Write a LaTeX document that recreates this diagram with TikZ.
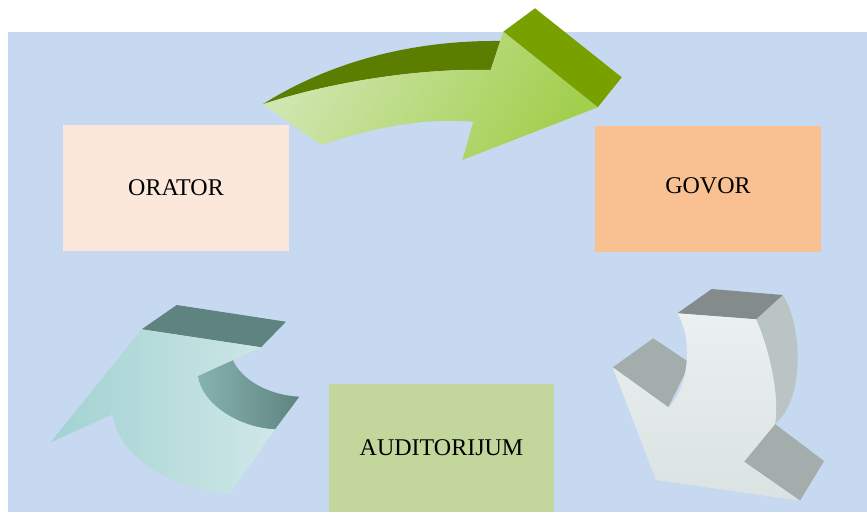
\documentclass[tikz,border=0pt]{standalone}
\usepackage{fontspec}
\setmainfont{Liberation Serif}
\definecolor{bgblue}{HTML}{C6D9F0}
\definecolor{oratorfill}{HTML}{FBE8DA}
\definecolor{govorfill}{HTML}{F9C191}
\definecolor{auditfill}{HTML}{C3D69B}
\definecolor{gLight}{HTML}{D0E6B0}
\definecolor{gMid}{HTML}{A3CF4E}
\definecolor{gDark}{HTML}{5B7E00}
\definecolor{gSide}{HTML}{78A100}
\definecolor{tLight}{HTML}{A2D2D2}
\definecolor{tLight2}{HTML}{CFE7E7}
\definecolor{tDark}{HTML}{5F8480}
\definecolor{tInner}{HTML}{86B3B0}
\definecolor{sLight}{HTML}{EBF0F0}
\definecolor{sLight2}{HTML}{DAE2E2}
\definecolor{sTop}{HTML}{838C8B}
\definecolor{sBarb}{HTML}{A3ADAC}
\definecolor{sSide}{HTML}{BAC4C4}
\tikzset{
  box/.style={draw=none, inner sep=0pt, minimum width=226pt, minimum height=126pt,
    font=\fontsize{24}{28}\selectfont, text=black},
}
\begin{document}
\begin{tikzpicture}[x=1pt,y=-1pt]
\useasboundingbox (0,0) rectangle (867,512);
\fill[bgblue] (8,32) rectangle (867,512);

% boxes
\node[box, fill=oratorfill] (orator) at (176,188) {ORATOR};
\node[box, fill=govorfill] (govor) at (708,188.5) {\raisebox{6pt}{GOVOR}};
\node[box, fill=auditfill, minimum width=225pt, minimum height=128pt] (audit) at (441.5,448) {AUDITORIJUM};

% green top arrow
\fill[gDark] (262.7,104.3) .. controls (320,68) and (400,40) .. (500.3,41)
  -- (490.7,70) .. controls (420,68) and (330,82) .. (262.7,104.3) -- cycle;
\fill[gSide] (503.3,31.7) -- (535,8.3) -- (621.7,77.3) -- (597.7,107.3) -- cycle;
\shade[left color=gLight, right color=gMid, shading angle=60]
  (262.7,104.3) -- (321.7,145) .. controls (380,125) and (430,118) .. (473.3,121.7)
  -- (462.3,160) -- (597.7,107.3) -- (503.3,31.7) -- (490.7,70)
  .. controls (420,68) and (330,82) .. (262.7,104.3) -- cycle;

% teal bottom-left arrow
\shade[left color=tInner, right color=tDark]
  (232.7,360) .. controls (242,380) and (268,395) .. (299.3,396.7)
  -- (275,429.3) .. controls (240,428) and (202,405) .. (197.7,376) -- cycle;
\fill[tDark] (141.7,329.3) -- (176.7,305) -- (286,321.7) -- (261,347.3) -- cycle;
\shade[left color=tLight, right color=tLight2]
  (50.7,442.3) -- (141.7,329.3) -- (261,347.3) -- (197.7,376)
  .. controls (202,405) and (240,428) .. (275,429.3) -- (230,494)
  .. controls (165,488) and (118,455) .. (112.7,414.3) -- cycle;

% grey bottom-right arrow
\fill[sBarb] (612.7,367.3) -- (653.3,338.3) -- (690,363) -- (668.3,407.3) -- cycle;
\fill[sBarb] (744,461.7) -- (775,424) -- (824,461) -- (800,500.7) -- cycle;
\fill[sSide] (756,319.3) -- (782.7,295) .. controls (800,320) and (808,395) .. (775,424)
  .. controls (780,395) and (768,345) .. (756,319.3) -- cycle;
\fill[sTop] (677.3,313.3) -- (711.7,289) -- (782.7,295) -- (756,319.3) -- cycle;
\shade[top color=sLight, bottom color=sLight2]
  (677.3,313.3) -- (756,319.3) .. controls (768,345) and (780,395) .. (775,424)
  -- (744,461.7) -- (800,500.7) -- (656,480) -- (612.7,367.3) -- (668.3,407.3)
  .. controls (688,390) and (694,340) .. (677.3,313.3) -- cycle;
\end{tikzpicture}
\end{document}
